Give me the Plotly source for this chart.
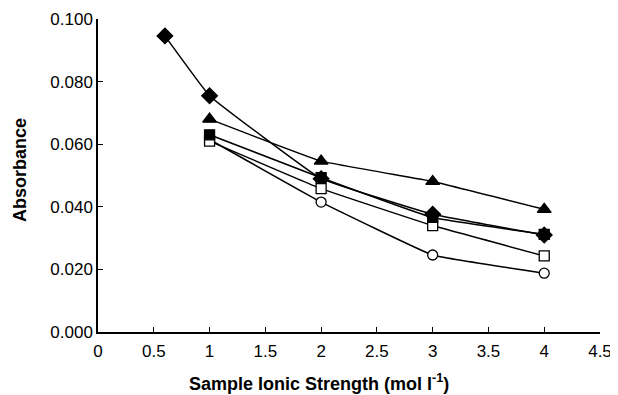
import plotly.graph_objects as go

x_diamond = [0.6, 1, 2, 3, 4]
y_diamond = [0.0946, 0.0755, 0.0490, 0.0376, 0.0310]
x_std = [1, 2, 3, 4]
y_triangle = [0.0680, 0.0546, 0.0481, 0.0392]
y_fsquare = [0.0630, 0.0493, 0.0366, 0.0312]
y_osquare = [0.0610, 0.0458, 0.0340, 0.0243]
y_circle = [0.0615, 0.0415, 0.0246, 0.0188]

x_ticks = [0, 0.5, 1, 1.5, 2, 2.5, 3, 3.5, 4, 4.5]
y_ticks = [0, 0.02, 0.04, 0.06, 0.08, 0.1]

x_title = "<b>Sample Ionic Strength (mol l<sup>-1</sup>)</b>"
y_title = "<b>Absorbance</b>"

font = "Liberation Sans, Arial, sans-serif"
fig = go.Figure()

def add(xs, ys, symbol, fill, size):
    fig.add_trace(go.Scatter(
        x=xs, y=ys, mode="lines+markers",
        line=dict(color="black", width=1.5, shape="spline", smoothing=0.25),
        marker=dict(symbol=symbol, size=size, color=fill,
                    line=dict(color="black", width=1.3)),
        showlegend=False))

add(x_std, y_circle, "circle", "white", 10)
add(x_diamond, y_diamond, "diamond", "black", 12)
add(x_std, y_osquare, "square", "white", 10)
add(x_std, y_fsquare, "square", "black", 10)
add(x_std, y_triangle, "triangle-up", "black", 12)

fig.update_layout(
    width=610, height=387,
    margin=dict(l=90, r=18, t=11, b=63),
    paper_bgcolor="white", plot_bgcolor="white",
    font=dict(family=font, size=17, color="black"),
    annotations=[
        dict(text=x_title, xref="paper", yref="paper", x=0.440, y=-0.162,
             xanchor="center", yanchor="middle", showarrow=False,
             font=dict(size=18)),
        dict(text=y_title, xref="paper", yref="paper", x=-0.155, y=0.518,
             xanchor="center", yanchor="middle", showarrow=False,
             textangle=-90, font=dict(size=18)),
    ],
)
fig.update_xaxes(
    range=[0, 4.5], tickvals=x_ticks, ticktext=[f"{v:g}" for v in x_ticks],
    showline=True, linecolor="black", linewidth=1.5, mirror=False,
    ticks="inside", ticklen=5, tickcolor="black", tickwidth=1.3,
    showgrid=False, zeroline=False, automargin=False,
    tickfont=dict(size=17), ticklabelstandoff=3,
)
fig.update_yaxes(
    range=[0, 0.1], tickvals=y_ticks, ticktext=[f"{v:.3f}" for v in y_ticks],
    showline=True, linecolor="black", linewidth=1.5,
    ticks="inside", ticklen=5, tickcolor="black", tickwidth=1.3,
    showgrid=False, zeroline=False, automargin=False,
    tickfont=dict(size=17),
)
fig.write_html("out.html")
